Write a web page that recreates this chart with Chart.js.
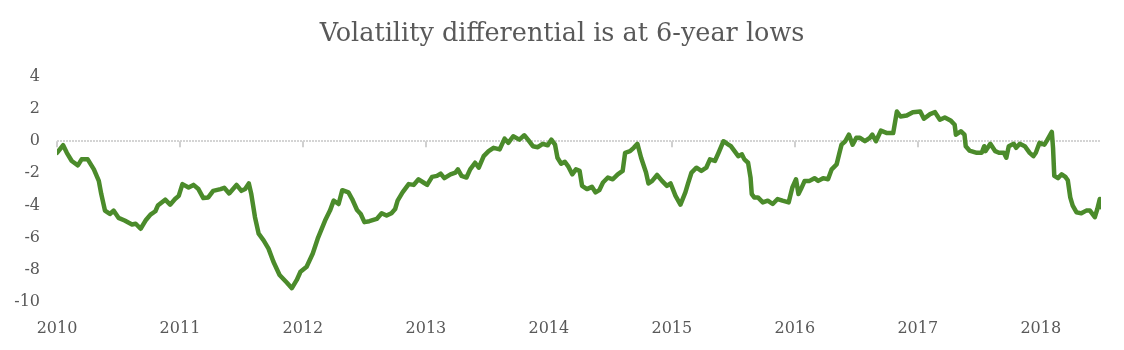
<!DOCTYPE html>
<html>
<head>
<meta charset="utf-8">
<script src="https://cdn.jsdelivr.net/npm/chart.js@4.4.1/dist/chart.umd.min.js"></script>
<style>
  html, body { margin: 0; padding: 0; background: #fff; }
  #wrap { width: 1124px; height: 350px; }
</style>
</head>
<body>
<div id="wrap"><canvas id="volChart"></canvas></div>
<script>
// dates as decimal years
const years = [
  2010.00, 2010.05, 2010.08, 2010.12, 2010.17, 2010.20, 2010.25, 2010.30, 2010.34, 2010.36,
  2010.39, 2010.43, 2010.46, 2010.50, 2010.55, 2010.61, 2010.64, 2010.68, 2010.72, 2010.76,
  2010.80, 2010.82, 2010.88, 2010.92, 2010.96, 2010.99, 2011.02, 2011.07, 2011.11, 2011.15,
  2011.19, 2011.23, 2011.27, 2011.33, 2011.36, 2011.40, 2011.46, 2011.50, 2011.53, 2011.56,
  2011.58, 2011.61, 2011.64, 2011.68, 2011.72, 2011.76, 2011.81, 2011.87, 2011.91, 2011.95,
  2011.98, 2012.03, 2012.08, 2012.12, 2012.18, 2012.22, 2012.25, 2012.29, 2012.32, 2012.37,
  2012.40, 2012.44, 2012.47, 2012.50, 2012.54, 2012.60, 2012.64, 2012.68, 2012.72, 2012.75,
  2012.77, 2012.81, 2012.86, 2012.90, 2012.94, 2012.98, 2013.01, 2013.05, 2013.09, 2013.12,
  2013.15, 2013.20, 2013.24, 2013.26, 2013.29, 2013.33, 2013.36, 2013.40, 2013.43, 2013.47,
  2013.51, 2013.55, 2013.60, 2013.64, 2013.67, 2013.71, 2013.76, 2013.80, 2013.83, 2013.87,
  2013.91, 2013.95, 2013.99, 2014.02, 2014.05, 2014.07, 2014.10, 2014.13, 2014.16, 2014.19,
  2014.22, 2014.25, 2014.27, 2014.31, 2014.35, 2014.38, 2014.41, 2014.44, 2014.48, 2014.52,
  2014.56, 2014.60, 2014.62, 2014.66, 2014.69, 2014.72, 2014.75, 2014.79, 2014.81, 2014.84,
  2014.88, 2014.92, 2014.96, 2014.99, 2015.03, 2015.07, 2015.11, 2015.13, 2015.16, 2015.20,
  2015.24, 2015.28, 2015.31, 2015.35, 2015.38, 2015.42, 2015.46, 2015.48, 2015.51, 2015.54,
  2015.57, 2015.59, 2015.62, 2015.64, 2015.65, 2015.67, 2015.70, 2015.74, 2015.78, 2015.82,
  2015.86, 2015.90, 2015.95, 2015.98, 2016.01, 2016.03, 2016.05, 2016.08, 2016.12, 2016.16,
  2016.19, 2016.23, 2016.27, 2016.30, 2016.34, 2016.36, 2016.38, 2016.41, 2016.44, 2016.47,
  2016.50, 2016.53, 2016.57, 2016.61, 2016.63, 2016.66, 2016.70, 2016.75, 2016.80, 2016.83,
  2016.86, 2016.91, 2016.96, 2017.02, 2017.05, 2017.10, 2017.14, 2017.18, 2017.22, 2017.27,
  2017.30, 2017.31, 2017.35, 2017.38, 2017.39, 2017.42, 2017.48, 2017.52, 2017.54, 2017.55,
  2017.59, 2017.63, 2017.66, 2017.70, 2017.72, 2017.74, 2017.78, 2017.80, 2017.83, 2017.87,
  2017.91, 2017.94, 2017.96, 2017.99, 2018.03, 2018.05, 2018.09, 2018.10, 2018.11, 2018.14,
  2018.17, 2018.20, 2018.22, 2018.24, 2018.26, 2018.29, 2018.33, 2018.37, 2018.40, 2018.44,
  2018.46, 2018.48, 2018.49
];

const differential = [
  -0.72, -0.25, -0.72, -1.23, -1.50, -1.13, -1.13, -1.75, -2.47, -3.29,
  -4.32, -4.53, -4.32, -4.77, -4.94, -5.19, -5.14, -5.45, -4.94, -4.57,
  -4.36, -4.01, -3.64, -3.95, -3.60, -3.40, -2.67, -2.88, -2.72, -2.98,
  -3.54, -3.50, -3.09, -2.98, -2.90, -3.25, -2.72, -3.09, -2.98, -2.63,
  -3.29, -4.73, -5.76, -6.17, -6.69, -7.51, -8.33, -8.81, -9.15, -8.64,
  -8.13, -7.82, -6.99, -6.07, -4.94, -4.32, -3.70, -3.91, -3.05, -3.19,
  -3.60, -4.28, -4.53, -5.04, -4.98, -4.84, -4.49, -4.63, -4.48, -4.22,
  -3.70, -3.19, -2.67, -2.72, -2.37, -2.57, -2.72, -2.22, -2.16, -2.02,
  -2.30, -2.06, -1.95, -1.75, -2.16, -2.26, -1.75, -1.34, -1.65, -0.93,
  -0.62, -0.41, -0.51, 0.16, -0.10, 0.31, 0.10, 0.37, 0.10, -0.31,
  -0.37, -0.16, -0.25, 0.10, -0.21, -1.03, -1.40, -1.28, -1.60, -2.06,
  -1.75, -1.85, -2.78, -2.98, -2.84, -3.19, -3.05, -2.57, -2.26, -2.37,
  -2.06, -1.85, -0.72, -0.62, -0.41, -0.16, -1.03, -1.95, -2.63, -2.47,
  -2.10, -2.47, -2.78, -2.63, -3.40, -3.95, -3.19, -2.67, -1.95, -1.65,
  -1.85, -1.65, -1.13, -1.23, -0.72, 0.00, -0.21, -0.31, -0.62, -0.93,
  -0.82, -1.13, -1.34, -2.26, -3.29, -3.50, -3.50, -3.81, -3.70, -3.91,
  -3.60, -3.70, -3.81, -2.88, -2.37, -3.29, -2.98, -2.47, -2.47, -2.30,
  -2.47, -2.30, -2.37, -1.75, -1.44, -0.82, -0.21, 0.00, 0.41, -0.21,
  0.21, 0.21, 0.00, 0.21, 0.41, 0.00, 0.66, 0.51, 0.51, 1.85,
  1.54, 1.60, 1.81, 1.85, 1.40, 1.69, 1.81, 1.34, 1.48, 1.27,
  1.03, 0.41, 0.62, 0.41, -0.31, -0.58, -0.72, -0.72, -0.31, -0.62,
  -0.16, -0.62, -0.72, -0.72, -1.03, -0.31, -0.16, -0.41, -0.16, -0.31,
  -0.72, -0.93, -0.72, -0.10, -0.21, 0.04, 0.58, -0.41, -2.16, -2.30,
  -2.06, -2.22, -2.43, -3.50, -4.01, -4.42, -4.49, -4.32, -4.32, -4.73,
  -4.22, -3.60, -4.11
];

const yTicks = [4, 2, 0, -2, -4, -6, -8, -10];
const xTicks = [2010, 2011, 2012, 2013, 2014, 2015, 2016, 2017, 2018];
const xStart = 2010;
const xEnd = 2018.49;
const chartTitle = "Volatility differential is at 6-year lows";

const textColor = "#595959";
const serif = "'DejaVu Serif', serif";

// small tick marks hanging under the zero line at each year
const yearMarks = {
  id: "yearMarks",
  beforeDatasetsDraw(chart) {
    const x = chart.scales.x, y = chart.scales.y;
    const y0 = y.getPixelForValue(0);
    const c = chart.ctx;
    c.save();
    c.strokeStyle = "#d0d0d0";
    c.lineWidth = 2;
    x.ticks.forEach(t => {
      const px = Math.round(x.getPixelForValue(t.value));
      c.beginPath();
      c.moveTo(px, y0);
      c.lineTo(px, y0 + 6);
      c.stroke();
    });
    c.restore();
  }
};

// title centred on the whole canvas (built-in title follows layout padding)
const pageTitle = {
  id: "pageTitle",
  afterDraw(chart) {
    const c = chart.ctx;
    c.save();
    c.font = "25.5px " + serif;
    c.fillStyle = textColor;
    c.textAlign = "center";
    c.textBaseline = "middle";
    c.fillText(chartTitle, chart.width / 2, 34);
    c.restore();
  }
};

const points = years.map((yr, i) => ({ x: yr, y: differential[i] }));

new Chart(document.getElementById("volChart"), {
  type: "line",
  data: {
    datasets: [{
      label: "Volatility differential",
      data: points,
      borderColor: "#4b8b2b",
      borderWidth: 4.5,
      pointRadius: 0,
      tension: 0,
      borderJoinStyle: "round",
      borderCapStyle: "round"
    }]
  },
  options: {
    responsive: true,
    maintainAspectRatio: false,
    animation: false,
    layout: { padding: { left: 0, right: 23, top: 77, bottom: -5 } },
    plugins: {
      legend: { display: false },
      tooltip: { enabled: false },
      title: { display: false }
    },
    scales: {
      x: {
        type: "linear",
        min: xStart,
        max: xEnd,
        grid: { display: false, drawTicks: false },
        border: { display: false },
        afterBuildTicks: s => { s.ticks = xTicks.map(v => ({ value: v })); },
        ticks: {
          autoSkip: false,
          maxRotation: 0,
          padding: 17,
          color: textColor,
          font: { family: serif, size: 16 },
          callback: v => String(v)
        }
      },
      y: {
        min: -10,
        max: 4,
        afterFit: s => { s.width = 57; },
        afterBuildTicks: s => { s.ticks = yTicks.map(v => ({ value: v })); },
        grid: {
          drawTicks: false,
          lineWidth: 2,
          color: ctx => (ctx.tick && ctx.tick.value === 0) ? "#d4d4d4" : "rgba(0,0,0,0)"
        },
        border: { display: false, dash: [2, 1] },
        ticks: {
          padding: 17,
          color: textColor,
          font: { family: serif, size: 16 }
        }
      }
    }
  },
  plugins: [yearMarks, pageTitle]
});
</script>
</body>
</html>
